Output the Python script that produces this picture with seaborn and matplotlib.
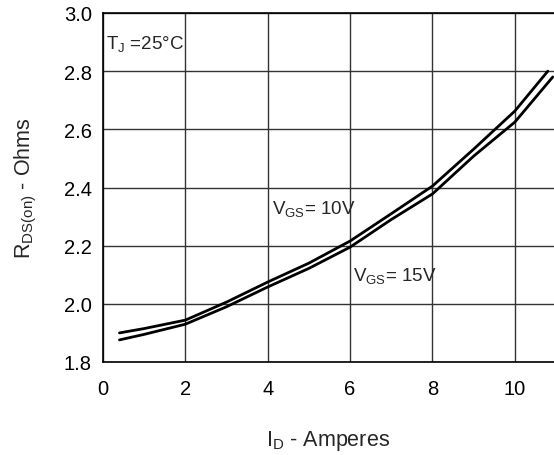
import numpy as np
import pandas as pd
import matplotlib
matplotlib.use("Agg")
import matplotlib.pyplot as plt
import seaborn as sns

# Data
id_10v = [0.4, 1.0, 2.0, 3.0, 4.0, 5.0, 6.0, 7.0, 8.0, 9.0, 10.0, 10.8]
rds_10v = [1.900, 1.915, 1.944, 2.006, 2.075, 2.140, 2.216, 2.310, 2.405, 2.532, 2.663, 2.800]
id_15v = [0.4, 1.0, 2.0, 3.0, 4.0, 5.0, 6.0, 7.0, 8.0, 9.0, 10.0, 10.92]
rds_15v = [1.876, 1.895, 1.930, 1.990, 2.058, 2.122, 2.195, 2.290, 2.378, 2.508, 2.625, 2.780]
x_ticks = [0, 2, 4, 6, 8, 10]
y_ticks = [1.8, 2.0, 2.2, 2.4, 2.6, 2.8, 3.0]

df = pd.concat([
    pd.DataFrame({"I_D": id_10v, "R": rds_10v, "VGS": "10V"}),
    pd.DataFrame({"I_D": id_15v, "R": rds_15v, "VGS": "15V"}),
])

sns.set_theme(style="white")
plt.rcParams['font.family'] = ['Liberation Sans', 'DejaVu Sans']

fig = plt.figure(figsize=(5.54, 4.56), dpi=100)
ax = fig.add_axes([103/554, 1 - 363/456, (554 - 103)/554, (363 - 14)/456])

sns.lineplot(data=df, x="I_D", y="R", hue="VGS", palette=["black", "black"],
             linewidth=2, legend=False, ax=ax, sort=False)

ax.set_xlim(0, 10.95)
ax.set_ylim(1.8, 3.0)
ax.set_xticks(x_ticks)
ax.set_yticks(y_ticks)
ax.set_xticklabels([str(t) for t in x_ticks], fontsize=14.5)
ax.set_yticklabels([f"{t:.1f}" for t in y_ticks], fontsize=14.5)
ax.tick_params(axis='x', length=0, pad=12, colors='black')
ax.tick_params(axis='y', length=0, pad=8, colors='black')
ax.grid(True, color='#333333', linewidth=1)
for side in ['left', 'bottom', 'top']:
    ax.spines[side].set_color('black')
    ax.spines[side].set_linewidth(1.2)
ax.spines['right'].set_visible(False)

ax.set_xlabel(r"I$_\mathregular{D}$ - Amperes", fontsize=15.5, labelpad=22)
ax.set_ylabel(r"R$_\mathregular{DS(on)}$ - Ohms", fontsize=15.5, labelpad=18)

ax.text(0.07, 2.876, r"T$_\mathregular{J}$ =25°C", fontsize=13.5, va='baseline', ha='left')
ax.text(4.10, 2.309, r"V$_\mathregular{GS}$= 10V", fontsize=13.5, va='baseline', ha='left')
ax.text(6.07, 2.079, r"V$_\mathregular{GS}$= 15V", fontsize=13.5, va='baseline', ha='left')

fig.savefig("out.png", dpi=100)
